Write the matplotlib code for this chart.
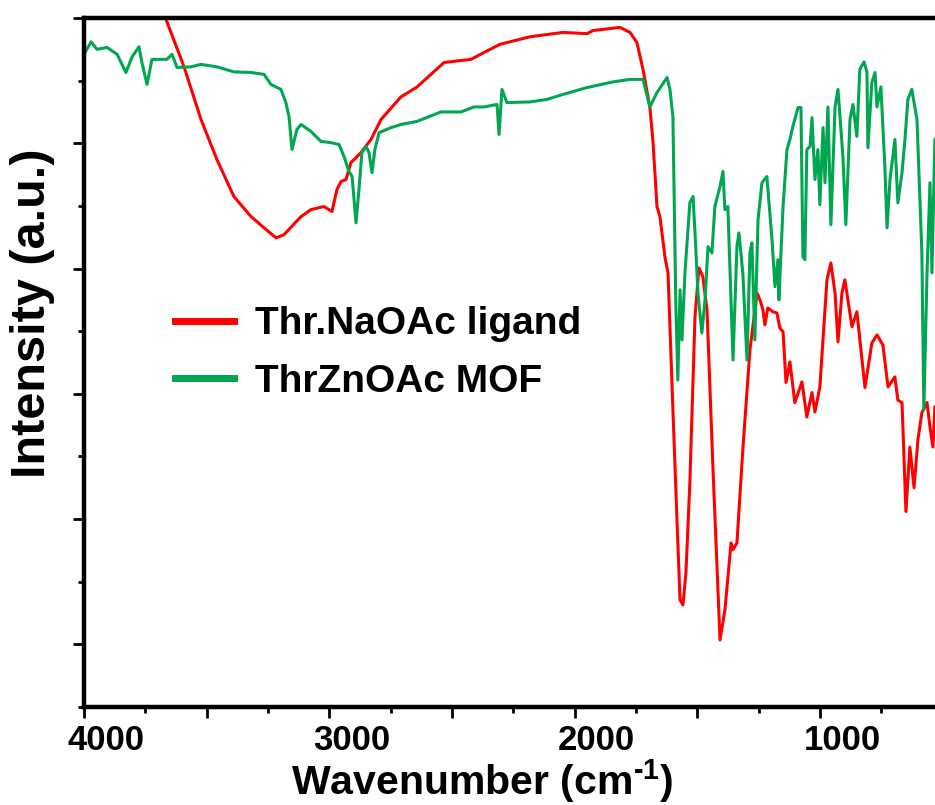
import matplotlib
matplotlib.use('Agg')
import matplotlib.pyplot as plt
import matplotlib.transforms as mtransforms
from matplotlib.ticker import MultipleLocator, FuncFormatter

plt.rcParams['font.family'] = ['Liberation Sans', 'DejaVu Sans']
plt.rcParams['font.weight'] = 'bold'
plt.rcParams['mathtext.fontset'] = 'custom'
plt.rcParams['mathtext.rm'] = 'Liberation Sans:bold'
plt.rcParams['mathtext.bf'] = 'Liberation Sans:bold'

# Thr.NaOAc ligand (red)
ligand_wn = [3695, 3662, 3592, 3523, 3458, 3389, 3319, 3266, 3217, 3185, 3115, 3075, 3022, 2989,
             2969, 2952, 2932, 2912, 2871, 2830, 2789, 2708, 2642, 2532, 2422, 2369, 2304, 2182,
             2047, 1949, 1925, 1815, 1774, 1746, 1721, 1693, 1680, 1664, 1652, 1631, 1619, 1603,
             1583, 1570, 1558, 1546, 1530, 1509, 1493, 1477, 1460, 1436, 1407, 1387, 1362, 1354,
             1338, 1314, 1285, 1256, 1244, 1232, 1224, 1212, 1191, 1175, 1163, 1150, 1138, 1122,
             1102, 1073, 1053, 1032, 1020, 1000, 971, 955, 938, 926, 910, 898, 869, 849, 816, 788,
             767, 743, 722, 694, 682, 665, 649, 633, 616, 600, 584, 563, 551, 539, 531, 500]
ligand_int = [11.30, 10.94, 10.22, 9.38, 8.74, 8.15, 7.83, 7.65, 7.49, 7.54, 7.83, 7.94, 7.99, 7.91,
              8.26, 8.39, 8.42, 8.69, 8.85, 9.06, 9.38, 9.74, 9.90, 10.29, 10.34, 10.45, 10.58, 10.70,
              10.77, 10.75, 10.80, 10.85, 10.77, 10.61, 10.18, 9.58, 9.01, 7.99, 7.83, 7.17, 6.93, 5.18,
              3.04, 1.71, 1.63, 2.14, 3.58, 6.23, 7.01, 6.87, 6.34, 3.83, 1.07, 1.55, 2.62, 2.51,
              2.62, 4.11, 5.70, 6.61, 6.50, 6.34, 6.10, 6.37, 6.31, 6.29, 6.05, 5.99, 5.18, 5.51,
              4.86, 5.19, 4.63, 5.02, 4.71, 5.11, 6.82, 7.09, 6.61, 5.83, 6.61, 6.82, 6.07, 6.31, 5.10, 5.81,
              5.94, 5.78, 5.11, 5.27, 4.90, 4.86, 3.12, 4.15, 3.50, 4.27, 4.70, 4.86, 4.47, 4.15, 4.79, 4.90]

# ThrZnOAc MOF (green)
mof_wn = [4000, 3971, 3947, 3906, 3865, 3829, 3804, 3776, 3764, 3743, 3723, 3662, 3641, 3621, 3564,
          3523, 3458, 3389, 3319, 3266, 3238, 3197, 3177, 3164, 3152, 3132, 3115, 3075, 3034, 2993,
          2960, 2940, 2920, 2907, 2891, 2879, 2867, 2850, 2838, 2826, 2814, 2797, 2748, 2708, 2642,
          2545, 2463, 2410, 2369, 2316, 2308, 2296, 2276, 2182, 2113, 2047, 1949, 1843, 1774, 1721,
          1693, 1664, 1623, 1611, 1599, 1587, 1579, 1570, 1562, 1550, 1530, 1517, 1509, 1497, 1481,
          1468, 1456, 1440, 1428, 1407, 1395, 1387, 1375, 1354, 1338, 1330, 1314, 1297, 1285, 1277,
          1265, 1252, 1236, 1216, 1195, 1183, 1171, 1167, 1150, 1134, 1122, 1110, 1089, 1077, 1069,
          1061, 1053, 1040, 1032, 1020, 1008, 1000, 987, 979, 967, 955, 938, 926, 906, 894, 877,
          865, 849, 837, 820, 808, 804, 788, 775, 767, 751, 735, 726, 714, 694, 682, 665, 653, 641,
          625, 604, 584, 576, 563, 551, 543, 531, 500]
mof_int = [10.42, 10.62, 10.50, 10.53, 10.42, 10.13, 10.38, 10.54, 10.29, 9.94, 10.34, 10.34, 10.42,
           10.21, 10.22, 10.26, 10.22, 10.14, 10.13, 10.10, 9.94, 9.86, 9.65, 9.42, 8.90, 9.22, 9.30,
           9.19, 9.03, 9.01, 8.98, 8.79, 8.55, 8.47, 7.73, 8.26, 8.85, 8.95, 8.85, 8.53, 8.90, 9.17,
           9.25, 9.30, 9.35, 9.50, 9.50, 9.58, 9.58, 9.62, 9.14, 9.86, 9.65, 9.66, 9.70, 9.78, 9.89,
           9.98, 10.02, 10.02, 9.58, 9.81, 10.05, 9.86, 9.42, 6.39, 5.22, 6.66, 5.86, 6.93, 8.05, 8.15,
           7.57, 6.61, 5.97, 6.50, 7.35, 7.25, 7.99, 8.31, 8.55, 7.94, 7.99, 5.54, 7.35, 7.57, 6.93,
           5.54, 7.25, 7.41, 5.86, 7.78, 8.37, 8.47, 7.46, 6.71, 7.14, 6.50, 7.99, 8.90, 9.06, 9.27,
           9.57, 9.57, 7.19, 7.14, 8.90, 8.95, 9.41, 8.42, 8.90, 8.02, 9.25, 8.37, 9.58, 7.70, 9.58,
           9.86, 8.79, 7.70, 9.38, 9.62, 9.11, 10.18, 10.30, 10.14, 8.93, 9.97, 10.13, 9.58, 9.90,
           8.63, 7.65, 8.42, 9.06, 8.05, 8.53, 9.06, 9.70, 9.86, 9.38, 7.25, 4.74, 6.93, 8.37, 6.93,
           9.06, 9.20]

labels = ['Thr.NaOAc ligand', 'ThrZnOAc MOF']
colors = ['#ff0000', '#00a650']

fig = plt.figure(figsize=(9.35, 8.05), dpi=100)
ax = fig.add_axes([84 / 935, 1 - 707 / 805, 0.92, (707 - 18) / 805])

ax.plot(ligand_wn, ligand_int, color=colors[0], lw=2.2, label=labels[0])
ax.plot(mof_wn, mof_int, color=colors[1], lw=2.2, label=labels[1])

ax.set_xlim(4000, 493)
ax.set_ylim(0, 11)

ax.xaxis.set_major_locator(MultipleLocator(500))
ax.xaxis.set_minor_locator(MultipleLocator(250))
ax.xaxis.set_major_formatter(FuncFormatter(lambda v, p: '%d' % v if v % 1000 == 0 else ''))
ax.yaxis.set_major_locator(MultipleLocator(2, offset=1))
ax.yaxis.set_minor_locator(MultipleLocator(2))
ax.set_yticklabels([])

for s in ['left', 'bottom', 'top']:
    ax.spines[s].set_linewidth(3.2)
ax.spines['right'].set_visible(False)
ax.tick_params(which='major', direction='out', length=8, width=2, labelsize=25, pad=4)
ax.tick_params(which='minor', direction='out', length=4, width=2)
ax.tick_params(axis='y', which='both', right=False)

shift = mtransforms.ScaledTranslation(0.22, 0, fig.dpi_scale_trans)
for lab in ax.get_xticklabels():
    lab.set_transform(lab.get_transform() + shift)

fig.text(482 / 935, 1 - 781 / 805, r'Wavenumber (cm$^{\text{-1}}$)', ha='center', va='center',
         fontsize=29.5, fontweight='bold')
fig.text(33 / 935, 1 - 313 / 805, 'Intensity (a.u.)', ha='center', va='center',
         rotation=90, fontsize=35, fontweight='bold')

leg = ax.legend(loc='center left', bbox_to_anchor=(156 / 935, 1 - 353 / 805),
                bbox_transform=fig.transFigure, frameon=False, borderpad=0,
                handlelength=1.5, handletextpad=0.55, labelspacing=0.55,
                prop={'weight': 'bold', 'size': 28})
for line in leg.get_lines():
    line.set_linewidth(5)

fig.savefig('out.png', dpi=100)
